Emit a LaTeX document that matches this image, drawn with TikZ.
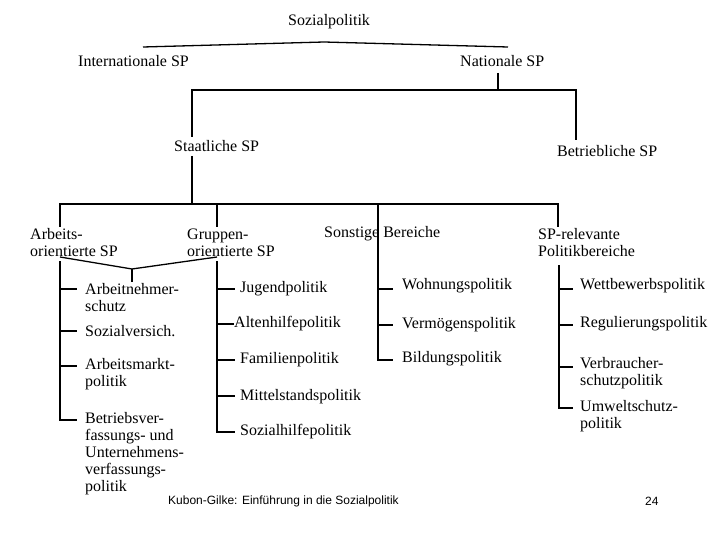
\documentclass[tikz,border=0pt]{standalone}
\usepackage{fontspec}
\setmainfont{Liberation Serif}
\newfontfamily\footfont{Liberation Sans}
\begin{document}
\begin{tikzpicture}[x=1pt,y=-1pt,
  lbl/.style={anchor=west,inner sep=0pt,align=left,font=\fontsize{16}{17}\selectfont},
  foot/.style={anchor=west,inner sep=0pt,font=\footfont\fontsize{12}{14}\selectfont},
  ln/.style={line width=1.3pt,black}]
\useasboundingbox[fill=white] (0,0) rectangle (720,540);
% level 0-2
\node[lbl] (soz) at (288,22) {Sozialpolitik};
\node[lbl] (intl) at (78,61) {Internationale SP};
\node[lbl] (nat) at (460,61) {Nationale SP};
\node[lbl] (staat) at (174,146) {Staatliche SP};
\node[lbl] (betr) at (557,151) {Betriebliche SP};
% level 3
\node[lbl] (arb) at (30,242.5) {Arbeits-\\orientierte SP};
\node[lbl] (grp) at (187,242.5) {Gruppen-\\orientierte SP};
\node[lbl] (sonst) at (324,234) {Sonstige Bereiche};
\node[lbl] (sprel) at (538,242.5) {SP-relevante\\Politikbereiche};
% column A
\node[lbl] (an) at (85,297.5) {Arbeitnehmer-\\schutz};
\node[lbl] (sv) at (85,331) {Sozialversich.};
\node[lbl] (am) at (85,374.5) {Arbeitsmarkt-\\politik};
\node[lbl] (bv) at (85,454) {Betriebsver-\\fassungs- und\\Unternehmens-\\verfassungs-\\politik};
% column B
\node[lbl] (jug) at (240,289) {Jugendpolitik};
\node[lbl] (alt) at (234,324) {Altenhilfepolitik};
\node[lbl] (fam) at (240,360) {Familienpolitik};
\node[lbl] (mit) at (240,397) {Mittelstandspolitik};
\node[lbl] (sozh) at (240,432) {Sozialhilfepolitik};
% column C
\node[lbl] (woh) at (402,286) {Wohnungspolitik};
\node[lbl] (verm) at (402,325) {Vermögenspolitik};
\node[lbl] (bild) at (402,359) {Bildungspolitik};
% column D
\node[lbl] (wett) at (580,286) {Wettbewerbspolitik};
\node[lbl] (reg) at (580,324) {Regulierungspolitik};
\node[lbl] (verb) at (580,373.5) {Verbraucher-\\schutzpolitik};
\node[lbl] (umw) at (580,416.5) {Umweltschutz-\\politik};
% footer
\node[foot] (src) at (168,501) {Kubon-Gilke: Einführung in die Sozialpolitik};
\node[foot] (pg) at (645,501) {24};
% connectors
\coordinate (pk) at (324,42);
\coordinate (l0) at (143,47);
\coordinate (r0) at (508,47);
\draw[ln] (l0) -- (pk) -- (r0);
\coordinate (n1) at (498,73);
\coordinate (n2) at (498,90);
\draw[ln] (n1) -- (n2);
\draw[ln] (192,137) -- (192,90) -- (576,90) -- (576,140);
\draw[ln] (192,156) -- (192,204);
\draw[ln] (60,227) -- (60,204) -- (558,204) -- (558,227);
\draw[ln] (217,204) -- (217,227);
\draw[ln] (378,204) -- (378,360) -- (393,360);
% bracket under Arbeits-/Gruppen-
\coordinate (j) at (132,269);
\draw[ln] (60,257) -- (j) -- (217,257);
\draw[ln] (j) -- (132,282);
% trunk A
\draw[ln] (60,261) -- (60,420) -- (77,420);
\foreach \yy in {289,331,366} \draw[ln] (60,\yy) -- (77,\yy);
% trunk B
\draw[ln] (217,261) -- (217,432) -- (235,432);
\foreach \yy in {289,360,396} \draw[ln] (217,\yy) -- (235,\yy);
\draw[ln] (217,324) -- (alt.west);
% trunk C
\foreach \yy in {289,325} \draw[ln] (378,\yy) -- (393,\yy);
% trunk D
\draw[ln] (559,265) -- (559,408) -- (573,408);
\foreach \yy in {289,325,367} \draw[ln] (559,\yy) -- (573,\yy);
\end{tikzpicture}
\end{document}
